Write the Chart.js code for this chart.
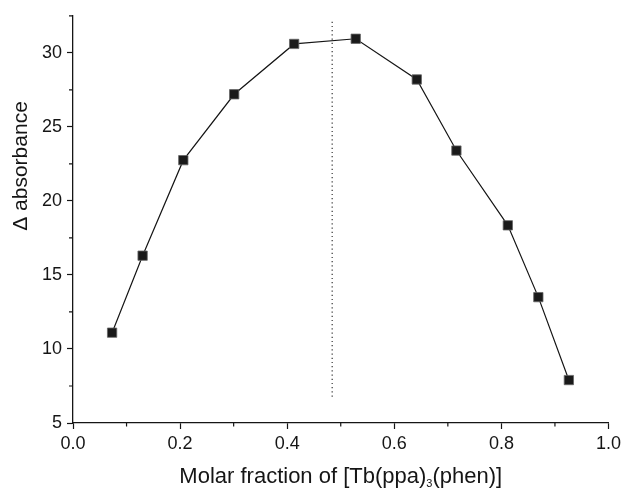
<!DOCTYPE html>
<html>
<head>
<meta charset="utf-8">
<script src="https://cdn.jsdelivr.net/npm/chart.js@4.4.0/dist/chart.umd.min.js"></script>
<style>
  html, body { margin: 0; background: #fff; }
  #wrap { width: 625px; height: 488px; }
</style>
</head>
<body>
<div id="wrap"><canvas id="chart"></canvas></div>
<script>
/* ── Dados ── */
const molarFraction = [0.073, 0.130, 0.206, 0.301, 0.413, 0.528, 0.642, 0.716, 0.812, 0.869, 0.926];
const deltaAbs      = [11.1, 16.3, 22.75, 27.2, 30.6, 30.95, 28.2, 23.4, 18.35, 13.5, 7.9];

const xTicks  = [0.0, 0.2, 0.4, 0.6, 0.8, 1.0];
const yTicks  = [5, 10, 15, 20, 25, 30];
const xMinor  = [0.1, 0.3, 0.5, 0.7, 0.9];
const yMinor  = [7.5, 12.5, 17.5, 22.5, 27.5, 32.5];

const peakX    = 0.484;
const peakLine = [32.1, 6.7];

const FONT = '"Liberation Sans", Arial, sans-serif';
const INK  = '#151515';

/* minor ticks + axis titles */
const extras = {
  id: 'extras',
  afterDraw(chart) {
    const { ctx, scales: { x, y } } = chart;
    ctx.save();
    ctx.strokeStyle = INK;
    ctx.lineWidth = 1.2;
    ctx.beginPath();
    xMinor.forEach(v => {
      const px = x.getPixelForValue(v);
      ctx.moveTo(px, y.bottom); ctx.lineTo(px, y.bottom + 3.5);
    });
    yMinor.forEach(v => {
      const py = y.getPixelForValue(v);
      ctx.moveTo(x.left, py); ctx.lineTo(x.left - 4, py);
    });
    ctx.stroke();

    ctx.fillStyle = INK;
    // x title with subscript
    const parts = [['Molar fraction of [Tb(ppa)', 22, 0], ['3', 11, 4], ['(phen)]', 22, 0]];
    let w = 0;
    parts.forEach(([t, s]) => { ctx.font = `${s}px ${FONT}`; w += ctx.measureText(t).width; });
    let cx = (x.left + x.right) / 2 - w / 2;
    ctx.textBaseline = 'alphabetic';
    ctx.textAlign = 'left';
    parts.forEach(([t, s, dy]) => {
      ctx.font = `${s}px ${FONT}`;
      ctx.fillText(t, cx, 483 + dy);
      cx += ctx.measureText(t).width;
    });

    // y title
    ctx.translate(27, 166);
    ctx.rotate(-Math.PI / 2);
    ctx.font = `21px ${FONT}`;
    ctx.textAlign = 'center';
    ctx.fillText('Δ absorbance', 0, 0);
    ctx.restore();
  }
};

new Chart(document.getElementById('chart'), {
  type: 'line',
  data: {
    datasets: [
      {
        data: molarFraction.map((v, i) => ({ x: v, y: deltaAbs[i] })),
        borderColor: INK,
        borderWidth: 1.2,
        pointStyle: 'rect',
        pointRadius: 6.6,
        pointBackgroundColor: '#1a1a1a',
        pointBorderColor: '#666',
        pointBorderWidth: 0.8,
        tension: 0,
      },
      {
        data: peakLine.map(v => ({ x: peakX, y: v })),
        borderColor: '#333',
        borderWidth: 1.2,
        borderDash: [1.2, 3],
        pointRadius: 0,
      },
    ],
  },
  options: {
    responsive: true,
    maintainAspectRatio: false,
    animation: false,
    layout: { padding: { top: 15, right: 12, left: 0, bottom: 0 } },
    plugins: { legend: { display: false }, tooltip: { enabled: false } },
    scales: {
      x: {
        type: 'linear',
        min: 0, max: 1,
        afterBuildTicks: s => { s.ticks = xTicks.map(v => ({ value: v })); },
        afterFit: s => { s.height = 65; },
        border: { color: INK, width: 1.3 },
        grid: { drawOnChartArea: false, tickLength: 6, tickColor: INK, tickWidth: 1.2 },
        ticks: { color: INK, font: { family: FONT, size: 18 }, padding: 4, maxRotation: 0,
                 callback: v => v.toFixed(1) },
      },
      y: {
        type: 'linear',
        min: 5, max: 32.5,
        afterBuildTicks: s => { s.ticks = yTicks.map(v => ({ value: v })); },
        afterFit: s => { s.width = 73; },
        border: { color: INK, width: 1.3 },
        grid: { drawOnChartArea: false, tickLength: 6, tickColor: INK, tickWidth: 1.2 },
        ticks: { color: INK, font: { family: FONT, size: 18 }, padding: 5 },
      },
    },
  },
  plugins: [extras],
});
</script>
</body>
</html>
